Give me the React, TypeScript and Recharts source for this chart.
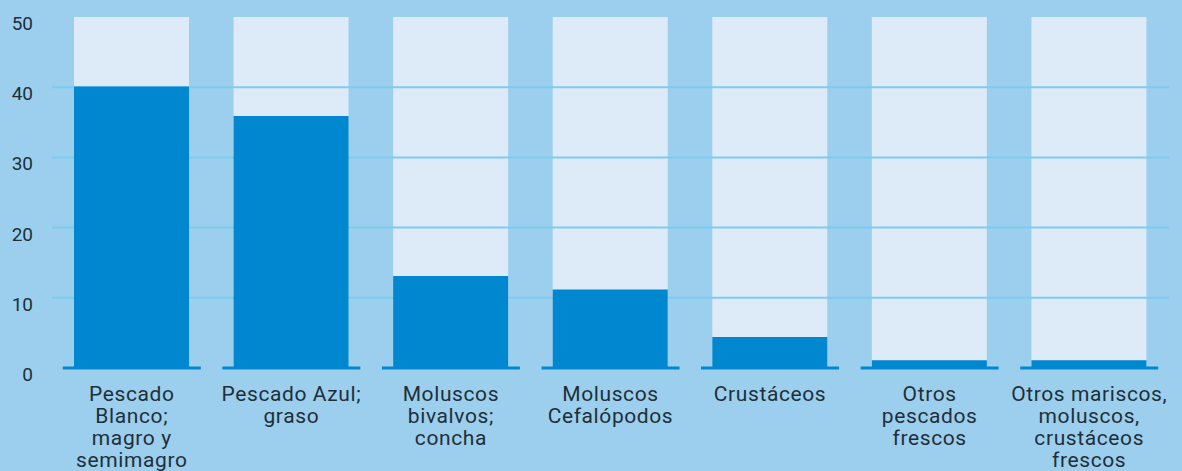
import React from 'react';
import { BarChart, Bar, CartesianGrid, XAxis, YAxis } from 'recharts';

const categories = [
  'Pescado Blanco; magro y semimagro',
  'Pescado Azul; graso',
  'Moluscos bivalvos; concha',
  'Moluscos Cefalópodos',
  'Crustáceos',
  'Otros pescados frescos',
  'Otros mariscos, moluscos, crustáceos frescos',
];

// line breaks used for the wrapped x-axis labels
const tickLines: Record<string, string[]> = {
  'Pescado Blanco; magro y semimagro': ['Pescado', 'Blanco;', 'magro y', 'semimagro'],
  'Pescado Azul; graso': ['Pescado Azul;', 'graso'],
  'Moluscos bivalvos; concha': ['Moluscos', 'bivalvos;', 'concha'],
  'Moluscos Cefalópodos': ['Moluscos', 'Cefalópodos'],
  'Crustáceos': ['Crustáceos'],
  'Otros pescados frescos': ['Otros', 'pescados', 'frescos'],
  'Otros mariscos, moluscos, crustáceos frescos': ['Otros mariscos,', 'moluscos,', 'crustáceos', 'frescos'],
};

const values = [40.1, 35.9, 13.1, 11.2, 4.4, 1.1, 1.1];
const maxValue = 50;
const yTicks = [0, 10, 20, 30, 40, 50];
const gridValues = [10, 20, 30, 40];

const data = categories.map((name, i) => ({ name, value: values[i], full: maxValue }));

const DARK = '#0087cf';
const LIGHT = '#ddebf8';
const BG = '#9bcfed';
const TEXT = '#1f2f39';

function XTick(props: any) {
  const { x, y, payload } = props;
  const lines = tickLines[payload.value] || [payload.value];
  return (
    <g>
      <line x1={x - 69} x2={x + 69} y1={y} y2={y} stroke={DARK} strokeWidth={3} />
      <text x={x} y={y} textAnchor='middle' fill={TEXT} fontSize={21} letterSpacing={0.6}>
        {lines.map((l, i) => (
          <tspan key={i} x={x} y={y + 33 + i * 22}>
            {l}
          </tspan>
        ))}
      </text>
    </g>
  );
}

function YTick(props: any) {
  const { x, y, payload } = props;
  return (
    <text x={x} y={y + 13} textAnchor='end' fill={TEXT} fontSize={19}>
      {payload.value}
    </text>
  );
}

export default function App() {
  return (
    <div
      style={{
        position: 'absolute',
        left: 0,
        top: 0,
        width: 1182,
        height: 471,
        background: BG,
        fontFamily: 'Roboto, sans-serif',
        overflow: 'hidden',
      }}
    >
      <BarChart
        width={1182}
        height={471}
        data={data}
        margin={{ top: 17, right: 13, bottom: 73, left: 0 }}
        barSize={115}
        barGap={-115}
      >
        <Bar dataKey='full' fill={LIGHT} isAnimationActive={false} zIndex={-150} />
        <CartesianGrid
          vertical={false}
          stroke='#7fcaf0'
          strokeWidth={2}
          horizontalValues={gridValues}
        />
        <Bar dataKey='value' fill={DARK} isAnimationActive={false} />
        <XAxis
          dataKey='name'
          height={30}
          axisLine={false}
          tickLine={false}
          tickSize={0}
          tickMargin={0}
          interval={0}
          tick={<XTick />}
        />
        <YAxis
          width={52}
          domain={[0, maxValue]}
          ticks={yTicks}
          axisLine={false}
          tickLine={false}
          tickSize={0}
          tickMargin={19}
          tick={<YTick />}
        />
      </BarChart>
    </div>
  );
}
